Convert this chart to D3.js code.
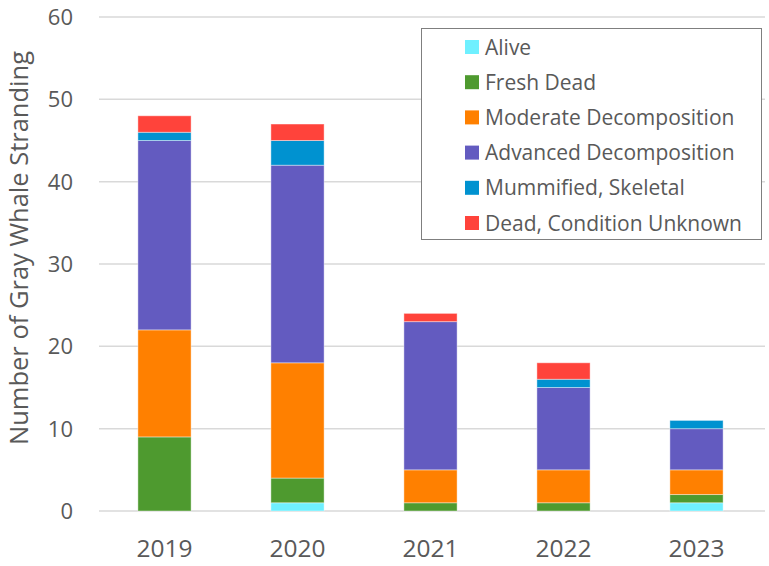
<!DOCTYPE html>
<html><head><meta charset="utf-8">
<script src="https://cdn.jsdelivr.net/npm/d3@7"></script>
<style>body{margin:0;background:#fff}</style>
</head><body>
<svg id="c" width="769" height="566"></svg>
<script>
const years = ["2019","2020","2021","2022","2023"];
const seriesNames = ["Alive","Fresh Dead","Moderate Decomposition","Advanced Decomposition","Mummified, Skeletal","Dead, Condition Unknown"];
const alive      = [0,1,0,0,1];
const freshDead  = [9,3,1,1,1];
const moderate   = [13,14,4,4,3];
const advanced   = [23,24,18,10,5];
const mummified  = [1,3,0,1,1];
const deadUnknown= [2,2,1,2,0];
const colors = ["#6ff0ff","#4e9a2f","#ff8000","#635bc0","#0092d0","#ff433b"];
const yTicks = [0,10,20,30,40,50,60];

const svals = [alive,freshDead,moderate,advanced,mummified,deadUnknown];
const rows = years.map((y,i)=>{const o={year:y}; seriesNames.forEach((n,k)=>o[n]=svals[k][i]); return o;});
const stack = d3.stack().keys(seriesNames)(rows);

const svg = d3.select("#c");
const x = d3.scaleBand().domain(years).range([98,763]).paddingInner(0.6).paddingOuter(0.3);
const y = d3.scaleLinear().domain([0,60]).range([511,17]);
const font = "'Open Sans', 'Noto Sans', sans-serif";

// gridlines
svg.append("g").selectAll("line").data(yTicks).join("line")
  .attr("x1",99).attr("x2",765)
  .attr("y1",d=>y(d)).attr("y2",d=>y(d))
  .attr("stroke","#d9d9d9").attr("stroke-width",1.5);

// y tick labels
svg.append("g").selectAll("text").data(yTicks).join("text")
  .attr("x",73).attr("y",d=>y(d)).attr("dy","0.36em")
  .attr("text-anchor","end").attr("font-family",font).attr("font-size",22)
  .attr("fill","#595959").text(d=>d);

// bars
svg.append("g").selectAll("g").data(stack).join("g")
  .attr("fill",(d,i)=>colors[i])
  .selectAll("rect").data(d=>d.filter(p=>p[1]-p[0]>0)).join("rect")
  .attr("x",d=>x(d.data.year)).attr("width",x.bandwidth())
  .attr("y",d=>y(d[1])).attr("height",d=>y(d[0])-y(d[1]))
  .attr("stroke","#ffffff").attr("stroke-opacity",0.4).attr("stroke-width",1);

// x labels
svg.append("g").selectAll("text").data(years).join("text")
  .attr("x",d=>x(d)+x.bandwidth()/2).attr("y",557)
  .attr("text-anchor","middle").attr("font-family",font).attr("font-size",24.5)
  .attr("fill","#595959").text(d=>d);

// y title
svg.append("text").attr("transform","translate(28,248) rotate(-90)")
  .attr("text-anchor","middle").attr("font-family",font).attr("font-size",25.5)
  .attr("fill","#595959").text("Number of Gray Whale Stranding");

// legend
const lg = svg.append("g");
lg.append("rect").attr("x",421.5).attr("y",28.5).attr("width",340).attr("height",211)
  .attr("fill","#fff").attr("stroke","#7f7f7f").attr("stroke-width",1);
const items = lg.selectAll("g").data(seriesNames).join("g")
  .attr("transform",(d,i)=>`translate(465,${47+i*35.2})`);
items.append("rect").attr("x",0).attr("y",-7).attr("width",14).attr("height",14)
  .attr("fill",(d,i)=>colors[i]);
items.append("text").attr("x",20).attr("y",0).attr("dy","0.36em")
  .attr("font-family",font).attr("font-size",21).attr("fill","#595959").text(d=>d);
</script>
</body></html>
